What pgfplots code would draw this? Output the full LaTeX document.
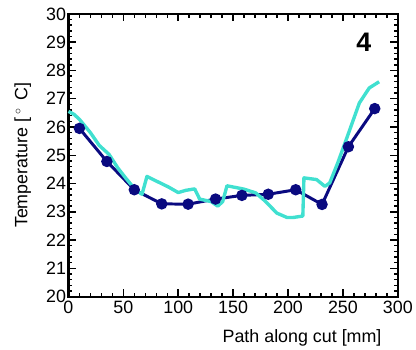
\documentclass[border=0pt]{standalone}
\usepackage{pgfplots}
\pgfplotsset{compat=1.18}
\usepackage{fontspec}
\setmainfont{Liberation Sans}
\definecolor{navyc}{RGB}{10,10,128}
\definecolor{turq}{RGB}{64,224,208}
\begin{document}
\begin{tikzpicture}
\begin{axis}[
  scale only axis,
  width=332pt, height=285pt,
  xmin=0, xmax=300, ymin=20, ymax=30,
  xtick={0,50,...,300}, ytick={20,21,...,30},
  minor x tick num=4, minor y tick num=4,
  tick align=inside,
  major tick length=7.5pt, minor tick length=4pt,
  axis line style={line width=2.2pt},
  every tick/.style={black, line width=1.5pt},
  /pgf/number format/assume math mode=true,
  tick label style={font=\fontsize{18}{20}\selectfont},
  label style={font=\fontsize{18}{20}\selectfont},
  xlabel={Path along cut [mm]},
  ylabel={Temperature [\,$^\circ$\, C]},
  x label style={at={(axis description cs:0.961,-0.161)}, anchor=base east},
  y label style={at={(axis description cs:-0.1386,0.5)}, anchor=center},
  xticklabel style={yshift=-1pt},
  yticklabel style={xshift=1pt},
  clip=false,
]
\addplot[navyc, line width=3pt, mark=*, mark size=4.2pt, mark options={solid}] coordinates {
(10,25.95) (35,24.78) (60,23.78) (85,23.28) (109,23.27) (134,23.45)
(158,23.58) (182,23.62) (207,23.78) (231,23.26) (255,25.3) (279,26.65)
};
\addplot[turq, line width=3.4pt, line join=round] coordinates {
(0,26.55) (5,26.45) (10,26.27) (20,25.8) (28,25.35) (37,25.03) (45,24.55)
(52,24.2) (61,23.78) (67,23.62) (71.5,24.25) (82,24.05) (91,23.88) (100,23.68)
(107,23.76) (115,23.81) (119.5,23.45) (130,23.36) (136,23.2) (140.5,23.36)
(144.4,23.92) (160,23.8) (170.5,23.67) (178,23.42) (190,22.95) (199,22.8)
(205,22.8) (213.5,22.85) (214.5,24.2) (226,24.14) (233.6,23.9) (238,24.02)
(245,24.7) (253,25.55) (265,26.85) (274,27.38) (283,27.6)
};
\node[font=\bfseries\fontsize{27}{30}\selectfont] at (axis cs:269,28.98) {4};
\end{axis}
\path (current axis.south west) ++(-69pt,-53pt) coordinate (bbA);
\path (current axis.north east) ++(15pt,14pt) coordinate (bbB);
\path (bbA) rectangle (bbB);
\end{tikzpicture}
\end{document}
